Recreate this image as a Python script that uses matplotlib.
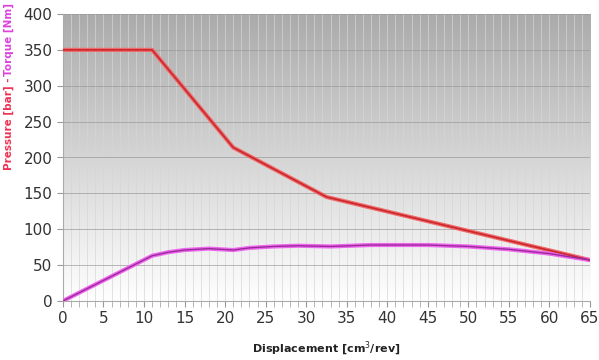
import numpy as np
import matplotlib.pyplot as plt

# Pressure curve (bar) vs displacement
press_x = [0, 11, 21, 32.5, 65]
press_y = [350, 350, 214, 145, 57]

# Torque curve (Nm) vs displacement
torque_x = [0, 11, 13, 15, 18, 21, 23, 26, 29, 33, 38, 45, 50, 55, 60, 65]
torque_y = [0, 63, 68, 71, 73, 71, 74, 76, 77, 76, 78, 78, 76, 72, 66, 57]

xticks = list(range(0, 66, 5))
yticks = list(range(0, 401, 50))

fig = plt.figure(figsize=(5.99, 3.6), dpi=100)
ax = fig.add_axes([0.105, 0.164, 0.880, 0.797])

# grey-to-white background gradient
grad = np.linspace(0, 1, 256).reshape(-1, 1)
cmap = plt.matplotlib.colors.LinearSegmentedColormap.from_list('bg', ['#ffffff', '#ababab'])
ax.imshow(grad, extent=[0, 65, 0, 400], origin='lower', aspect='auto', cmap=cmap, zorder=0)

for x in range(0, 66):
    ax.axvline(x, color='#d6d6d6', lw=0.6, zorder=1, alpha=0.8)
for y in yticks:
    ax.axhline(y, color='#999999', lw=0.6, zorder=1, alpha=0.8)

ax.plot(press_x, press_y, color='#f06a6a', lw=3, zorder=3, solid_joinstyle='round')
ax.plot(press_x, press_y, color='#c8282e', lw=1.2, zorder=4)
ax.plot(torque_x, torque_y, color='#ee66ee', lw=3, zorder=3, solid_joinstyle='round')
ax.plot(torque_x, torque_y, color='#9a2a9a', lw=1.0, zorder=4)

ax.set_xlim(0, 65)
ax.set_ylim(0, 400)
ax.set_xticks(xticks)
ax.set_yticks(yticks)
ax.set_xticks(range(0, 66), minor=True)
ax.tick_params(axis='both', labelsize=11, colors='#999999', labelcolor='#333333', length=4)
ax.tick_params(axis='x', which='minor', length=4, color='#aaaaaa')
for s in ['top', 'right']:
    ax.spines[s].set_visible(False)
ax.spines['left'].set_color('#aaaaaa')
ax.spines['bottom'].set_color('#aaaaaa')

ax.set_xlabel('Displacement [cm$^3$/rev]', fontsize=8, fontweight='bold', color='#222222', labelpad=10)

# two-coloured y label
fig.canvas.draw()
t1 = fig.text(0.014, 1 - 3 / 360, 'Torque [Nm]', rotation=90, ha='center', va='top',
              fontsize=7.5, fontweight='bold', color='#dd44dd')
bb = t1.get_window_extent(renderer=fig.canvas.get_renderer())
fig.text(0.014, bb.y0 / fig.bbox.height - 0.005, 'Pressure [bar] -', rotation=90, ha='center', va='top',
         fontsize=7.5, fontweight='bold', color='#ee3355')

fig.savefig('out.png', dpi=100)
